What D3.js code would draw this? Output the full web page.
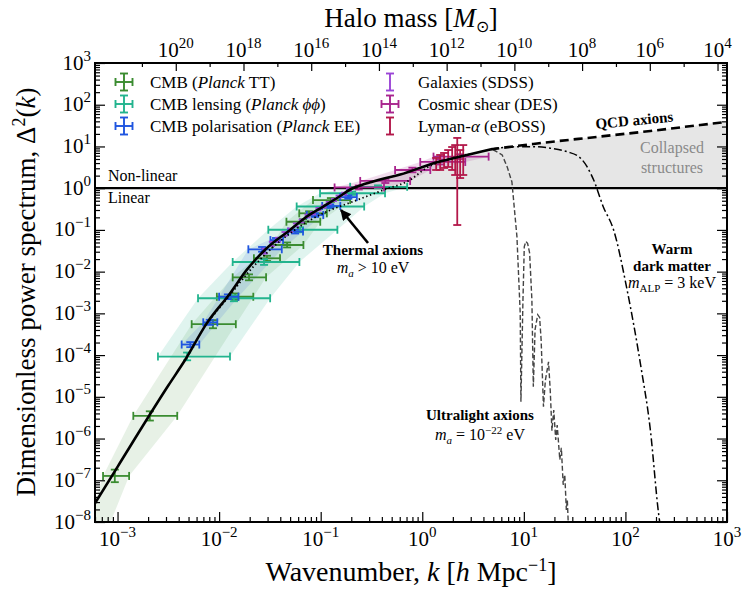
<!DOCTYPE html>
<html><head><meta charset="utf-8">
<script src="https://cdn.jsdelivr.net/npm/d3@7"></script>
<style>
body{margin:0;background:#fff;}
svg text{font-family:"Liberation Serif","Times New Roman",serif;fill:#000;}
</style></head><body>
<svg id="chart" width="748" height="590"></svg>
<script>
// ---------------- data ----------------
const kDomain=[6e-4,1e3];
const dDomain=[1e-8,1e3];
const massNorm=5.25e12; // halo mass M = massNorm * k^-3

const kMajorTicks=[1e-3,1e-2,1e-1,1,10,100,1000];
const kTickExp=["−3","−2","−1","0","1","2","3"];
const dMajorTicks=[1e-8,1e-7,1e-6,1e-5,1e-4,1e-3,1e-2,1e-1,1,10,100,1000];
const dTickExp=["−8","−7","−6","−5","−4","−3","−2","−1","0","1","2","3"];
const massMajorTicks=[1e20,1e18,1e16,1e14,1e12,1e10,1e8,1e6,1e4];
const massTickExp=["20","18","16","14","12","10","8","6","4"];
const massMinorTicks=[1e21,1e19,1e17,1e15,1e13,1e11,1e9,1e7,1e5];

// LCDM Delta^2(k)
const lcdmK=[6e-4,1e-3,3.16e-3,4.62e-3,7.55e-3,1.28e-2,1.87e-2,2.94e-2,5.0e-2,7.31e-2,0.106,0.156,0.195,0.25,0.316,0.42,0.607,1.29,2.75,4.67];
const lcdmD=[2.8e-8,2.1e-7,1.86e-5,7.6e-5,5.75e-4,3.0e-3,1.1e-2,3.63e-2,0.1,0.209,0.363,0.65,0.93,1.18,1.4,1.7,2.12,3.98,6.24,8.5];
// thermal axions (dotted)
const thermK=[7.55e-3,1.26e-2,2.0e-2,3.16e-2,5.0e-2,7.94e-2,0.126,0.195,0.417,0.759,1.11,1.75,2.9];
const thermD=[5.75e-4,2.63e-3,1.05e-2,3.3e-2,8.3e-2,0.174,0.302,0.45,0.91,1.58,3.1,4.8,6.6];
// QCD axions (dashed)
const qcdK=[4.67,12.4,56.7,176,548,1000];
const qcdD=[8.5,11.5,17.3,23.5,32.7,38.6];
// ultralight axions (dashed grey)
const ulaK=[4.2,5.0,6.12,6.86,7.63,8.55,9.21,9.36,9.8,10.1,10.5,10.9,11.4,12.0,12.4,12.9,13.7,14.3,14.8,15.6,16.3,17.5,18.2,18.9,19.7,20.6,21.3,22.6,23.4,24.4,25.3,26.2,26.8,27.4];
const ulaD=[8.0,8.3,6.25,3.22,1.41,0.0689,1.02e-3,7.66e-6,2.1e-3,0.04,0.053,0.047,0.028,2.1e-3,1.75e-5,4.1e-4,9.3e-4,8.0e-4,2.3e-4,5.8e-6,2.5e-5,6.9e-5,1.4e-5,1.55e-6,4.8e-6,9.3e-7,2.1e-6,3.1e-7,6.0e-7,7.8e-8,1.35e-7,1.95e-8,3.4e-8,8.5e-9];
// warm dark matter (dash-dot)
const wdmK=[4.67,7.35,12.4,18.2,26.6,36,41.9,48.7,60.5,76.5,104,140,176,212,230];
const wdmD=[8.5,9.75,9.85,9.1,7.5,5.3,3.27,1.57,0.36,0.1,3.6e-3,6.5e-5,1.6e-6,1.6e-8,4e-9];

// CMB TT
const ttK=[9.4e-4,2.08e-3,8.7e-3,1.44e-2,1.97e-2,2.96e-2,4.67e-2,6.7e-2,7.7e-2,0.126];
const ttKlo=[7.2e-4,1.43e-3,5.37e-3,9.5e-3,1.36e-2,2.2e-2,3.3e-2,4.6e-2,6.15e-2,8.4e-2];
const ttKhi=[1.3e-3,3.87e-3,1.46e-2,2.17e-2,2.9e-2,3.98e-2,6.76e-2,9.9e-2,0.115,0.195];
const ttD=[1.27e-7,3.5e-6,5.5e-4,2.5e-3,7.3e-3,2.09e-2,4.35e-2,0.157,0.25,0.52];
const ttDlo=[9.0e-8,2.7e-6,4.4e-4,2.1e-3,6.2e-3,1.8e-2,3.8e-2,0.14,0.22,0.47];
const ttDhi=[1.8e-7,4.5e-6,6.9e-4,3.0e-3,8.6e-3,2.4e-2,5.0e-2,0.18,0.28,0.58];
// CMB lensing
const lensK=[4.84e-3,1.4e-2,2.77e-2,6.26e-2,0.118,0.204,0.367];
const lensKlo=[2.5e-3,6.2e-3,1.36e-2,3.05e-2,5.8e-2,9.86e-2,0.195];
const lensKhi=[1.28e-2,3.18e-2,6.17e-2,0.146,0.268,0.43,0.71];
const lensD=[9.2e-5,2.3e-3,1.7e-2,0.101,0.364,0.755,1.08];
const lensDlo=[7.5e-5,1.95e-3,1.45e-2,0.088,0.33,0.69,1.0];
const lensDhi=[1.15e-4,2.7e-3,2.0e-2,0.116,0.40,0.83,1.17];
// CMB polarisation EE
const eeK=[5.2e-3,8.1e-3,1.22e-2,2.65e-2,3.63e-2,5.6e-2,8.8e-2,0.124,0.187];
const eeKlo=[4.28e-3,6.98e-3,1.0e-2,1.94e-2,3.2e-2,4.78e-2,7.3e-2,0.1035,0.155];
const eeKhi=[6.38e-3,9.6e-3,1.55e-2,4.14e-2,4.26e-2,6.7e-2,0.106,0.156,0.227];
const eeD=[1.79e-4,6.1e-4,2.5e-3,3.43e-2,5.7e-2,9.1e-2,0.228,0.374,0.612];
const eeDlo=[1.55e-4,5.3e-4,2.2e-3,3.0e-2,5.1e-2,8.2e-2,0.205,0.34,0.56];
const eeDhi=[2.05e-4,7.0e-4,2.85e-3,3.9e-2,6.4e-2,0.101,0.25,0.41,0.67];
// Galaxies SDSS
const sdssK=[0.028,0.033,0.038,0.044,0.05,0.057,0.065,0.074,0.084,0.095,0.107,0.12,0.135,0.15,0.17,0.19];
const sdssD=[0.031,0.046,0.058,0.080,0.098,0.131,0.163,0.216,0.252,0.314,0.362,0.44,0.52,0.63,0.74,0.91];
const sdssDlo=[0.027,0.041,0.052,0.072,0.089,0.12,0.15,0.2,0.235,0.293,0.34,0.413,0.49,0.595,0.7,0.86];
const sdssDhi=[0.0355,0.052,0.065,0.089,0.108,0.143,0.177,0.233,0.27,0.337,0.386,0.468,0.553,0.667,0.782,0.962];
// Cosmic shear DES
const desK=[0.237,0.433,0.8,1.5,2.36];
const desKlo=[0.137,0.245,0.54,0.955,1.29];
const desKhi=[0.42,0.76,1.2,2.65,4.5];
const desD=[1.04,1.49,2.73,4.25,5.7];
const desDlo=[0.93,1.33,2.4,3.7,5.0];
const desDhi=[1.16,1.67,3.1,4.9,6.5];
// Lyman-alpha eBOSS
const lyaK=[1.37,1.5,1.64,1.8,1.97,2.11,2.21,2.36,2.53];
const lyaD=[3.8,4.25,4.74,5.3,5.3,4.74,4.74,4.0,4.74];
const lyaDlo=[2.73,2.73,3.05,3.22,2.73,2.07,0.131,1.75,2.07];
const lyaDhi=[5.3,6.25,6.98,8.2,9.7,10.8,16,8.2,10.8];

// shaded envelopes
const bandTTD=[3e-9,1.27e-7,3.5e-6,5.5e-4,7.3e-3,4.35e-2,0.157,0.52];
const bandTTlo=[4.5e-4,7.2e-4,1.43e-3,5.37e-3,1.36e-2,3.3e-2,4.6e-2,8.4e-2];
const bandTThi=[7.0e-4,1.3e-3,3.87e-3,1.46e-2,2.9e-2,6.76e-2,9.9e-2,0.195];
const bandLensD=[9.2e-5,2.3e-3,1.7e-2,0.101,0.364,0.755,1.08];
const bandLenslo=[2.5e-3,6.2e-3,1.36e-2,3.05e-2,5.8e-2,9.86e-2,0.195];
const bandLenshi=[1.28e-2,3.18e-2,6.17e-2,0.146,0.268,0.43,0.71];
const bandEED=[1.79e-4,6.1e-4,2.5e-3,3.43e-2,9.1e-2,0.228,0.612];
const bandEElo=[4.28e-3,6.98e-3,1.0e-2,1.94e-2,4.78e-2,7.3e-2,0.155];
const bandEEhi=[6.38e-3,9.6e-3,1.55e-2,4.14e-2,6.7e-2,0.106,0.227];
const bandDESD=[1.04,1.49,2.73,4.25,5.7];
const bandDESlo=[0.137,0.245,0.54,0.955,1.29];
const bandDEShi=[0.42,0.76,1.2,2.65,4.5];

const colTT="#3a8c30", colLens="#22b48e", colEE="#1f55e0", colSDSS="#9b45d6", colDES="#a8248e", colLya="#b3184a";

// ---------------- drawing ----------------
const L=95,R=727,T=63,B=522;
const svg=d3.select("#chart");
const x=d3.scaleLog().domain(kDomain).range([L,R]);
const y=d3.scaleLog().domain(dDomain).range([B,T]);
const xm=d3.scaleLog().domain([massNorm*Math.pow(kDomain[0],-3),massNorm*Math.pow(kDomain[1],-3)]).range([L,R]);

const defs=svg.append("defs");
defs.append("clipPath").attr("id","clip").append("rect").attr("x",L).attr("y",T).attr("width",R-L).attr("height",B-T);
defs.append("marker").attr("id","arrow").attr("viewBox","0 0 10 10").attr("refX",9).attr("refY",5)
  .attr("markerWidth",4.2).attr("markerHeight",4.2).attr("orient","auto")
  .append("path").attr("d","M0,0L10,5L0,10z").attr("fill","#000");

const plot=svg.append("g").attr("clip-path","url(#clip)");
const lineKD=d3.line().x(d=>x(d[0])).y(d=>y(d[1]));
const zip=(a,b)=>a.map((v,i)=>[v,b[i]]);

function band(D,lo,hi,color,op){
  const pts=D.map((d,i)=>[lo[i],d]).concat(D.map((d,i)=>[hi[i],d]).reverse());
  plot.append("path").attr("d",lineKD(pts)+"Z").attr("fill",color).attr("fill-opacity",op).attr("stroke","none");
}
band(bandTTD,bandTTlo,bandTThi,colTT,0.12);
band(bandLensD,bandLenslo,bandLenshi,colLens,0.14);
band(bandEED,bandEElo,bandEEhi,colEE,0.12);

// collapsed-structure grey region
(function(){
  let i=lcdmD.findIndex(v=>v>=1);
  const l0=Math.log10(lcdmD[i-1]), l1=Math.log10(lcdmD[i]);
  const t=(0-l0)/(l1-l0);
  const kc=Math.pow(10,Math.log10(lcdmK[i-1])+t*(Math.log10(lcdmK[i])-Math.log10(lcdmK[i-1])));
  const pts=[[kc,1]];
  for(let j=i;j<lcdmK.length;j++) pts.push([lcdmK[j],lcdmD[j]]);
  for(let j=1;j<qcdK.length;j++) pts.push([qcdK[j],qcdD[j]]);
  pts.push([kDomain[1],1]);
  plot.append("path").attr("d",d3.line().x(d=>x(d[0])).y(d=>y(d[1])).curve(d3.curveMonotoneX)(pts)+"Z")
    .attr("fill","#e6e6e6").attr("stroke","none");
})();
band(bandDESD,bandDESlo,bandDEShi,colDES,0.16);

// linear / non-linear divider
plot.append("line").attr("x1",L).attr("x2",R).attr("y1",y(1)).attr("y2",y(1)).attr("stroke","#000").attr("stroke-width",2.2);

// error bars
function errorbars(K,Klo,Khi,D,Dlo,Dhi,color,cap){
  const g=plot.append("g").attr("stroke",color).attr("stroke-width",1.8).attr("fill","none");
  K.forEach((k,i)=>{
    const cx=x(k), cy=y(D[i]);
    if(Klo){
      const x1=x(Klo[i]), x2=x(Khi[i]);
      g.append("line").attr("x1",x1).attr("x2",x2).attr("y1",cy).attr("y2",cy);
      g.append("line").attr("x1",x1).attr("x2",x1).attr("y1",cy-cap).attr("y2",cy+cap);
      g.append("line").attr("x1",x2).attr("x2",x2).attr("y1",cy-cap).attr("y2",cy+cap);
    }
    const y1=y(Dlo[i]), y2=y(Dhi[i]);
    g.append("line").attr("x1",cx).attr("x2",cx).attr("y1",y1).attr("y2",y2);
    g.append("line").attr("x1",cx-cap).attr("x2",cx+cap).attr("y1",y1).attr("y2",y1);
    g.append("line").attr("x1",cx-cap).attr("x2",cx+cap).attr("y1",y2).attr("y2",y2);
  });
}
errorbars(ttK,ttKlo,ttKhi,ttD,ttDlo,ttDhi,colTT,4);
errorbars(lensK,lensKlo,lensKhi,lensD,lensDlo,lensDhi,colLens,4);
errorbars(eeK,eeKlo,eeKhi,eeD,eeDlo,eeDhi,colEE,4);
errorbars(sdssK,null,null,sdssD,sdssDlo,sdssDhi,colSDSS,3);
errorbars(desK,desKlo,desKhi,desD,desDlo,desDhi,colDES,4);
errorbars(lyaK,null,null,lyaD,lyaDlo,lyaDhi,colLya,4);

// model curves
const smooth=d3.line().x(d=>x(d[0])).y(d=>y(d[1])).curve(d3.curveMonotoneX);
plot.append("path").attr("d",smooth(zip(thermK,thermD))).attr("fill","none").attr("stroke","#000").attr("stroke-width",1.8).attr("stroke-dasharray","1.4,2.6");
plot.append("path").attr("d",lineKD(zip(ulaK,ulaD))).attr("fill","none").attr("stroke","#444").attr("stroke-width",1.4).attr("stroke-dasharray","5,2.5");
plot.append("path").attr("d",smooth(zip(wdmK,wdmD))).attr("fill","none").attr("stroke","#000").attr("stroke-width",1.5).attr("stroke-dasharray","8,3,2,3");
plot.append("path").attr("d",smooth(zip(qcdK,qcdD))).attr("fill","none").attr("stroke","#000").attr("stroke-width",2.6).attr("stroke-dasharray","9,5");
plot.append("path").attr("d",smooth(zip(lcdmK,lcdmD))).attr("fill","none").attr("stroke","#000").attr("stroke-width",2.6);

// ---------------- rich text helper ----------------
function rich(parent,x0,y0,parts,o){
  o=o||{};
  const t=parent.append("text").attr("x",x0).attr("y",y0).attr("font-size",o.fs||16);
  if(o.anchor) t.attr("text-anchor",o.anchor);
  if(o.weight) t.attr("font-weight",o.weight);
  if(o.fill) t.style("fill",o.fill);
  if(o.transform) t.attr("transform",o.transform);
  let shift=0;
  parts.forEach(p=>{
    if(typeof p==="string") p={t:p};
    const s=t.append("tspan").text(p.t);
    const target=p.sup?-p.sup:(p.sub?p.sub:0);
    if(target!==shift){s.attr("dy",target-shift);shift=target;}
    if(p.i) s.attr("font-style","italic");
    if(p.fs) s.attr("font-size",p.fs);
  });
  return t;
}

// annotations
const ann=svg.append("g");
rich(ann,108,181,["Non-linear"],{fs:16});
rich(ann,108,203,["Linear"],{fs:16});
rich(ann,672,153,["Collapsed"],{fs:16,anchor:"middle",fill:"#8a8a8a"});
rich(ann,672,173,["structures"],{fs:16,anchor:"middle",fill:"#8a8a8a"});
rich(ann,0,0,["QCD axions"],{fs:15,weight:"bold",transform:"translate(596,129) rotate(-5.5)"});
rich(ann,373,255,["Thermal axions"],{fs:15,weight:"bold",anchor:"middle"});
rich(ann,373,273,[{t:"m",i:1},{t:"a",i:1,sub:4,fs:11},{t:" > 10 eV"}],{fs:16,anchor:"middle"});
ann.append("line").attr("x1",368).attr("y1",243).attr("x2",341).attr("y2",210).attr("stroke","#000").attr("stroke-width",2.6).attr("marker-end","url(#arrow)");
rich(ann,480,420,["Ultralight axions"],{fs:15,weight:"bold",anchor:"middle"});
rich(ann,480,440,[{t:"m",i:1},{t:"a",i:1,sub:4,fs:11},{t:" = 10"},{t:"−22",sup:6,fs:11},{t:" eV"}],{fs:16,anchor:"middle"});
rich(ann,672,254,["Warm"],{fs:15,weight:"bold",anchor:"middle"});
rich(ann,672,271,["dark matter"],{fs:15,weight:"bold",anchor:"middle"});
rich(ann,672,288,[{t:"m",i:1},{t:"ALP",sub:4,fs:11},{t:" = 3 keV"}],{fs:16,anchor:"middle"});

// frame
svg.append("rect").attr("x",L).attr("y",T).attr("width",R-L).attr("height",B-T).attr("fill","none").attr("stroke","#000").attr("stroke-width",2);

// axes ticks via d3 axes
function minorOf(dom){
  const out=[];
  for(let e=Math.floor(Math.log10(dom[0]))-1;e<=Math.ceil(Math.log10(dom[1]));e++)
    for(let j=2;j<=9;j++){const v=j*Math.pow(10,e); if(v>=dom[0]*0.999&&v<=dom[1]*1.001) out.push(v);}
  return out;
}
function styleAxis(g){g.select(".domain").remove();g.selectAll("line").attr("stroke","#000").attr("stroke-width",1.2);g.selectAll("text").remove();}
svg.append("g").attr("transform",`translate(0,${B})`).call(d3.axisBottom(x).tickValues(kMajorTicks).tickSize(-10).tickFormat("")).call(styleAxis);
svg.append("g").attr("transform",`translate(0,${B})`).call(d3.axisBottom(x).tickValues(minorOf(kDomain)).tickSize(-5).tickFormat("")).call(styleAxis);
svg.append("g").attr("transform",`translate(0,${T})`).call(d3.axisTop(xm).tickValues(massMajorTicks).tickSize(-8).tickFormat("")).call(styleAxis);
svg.append("g").attr("transform",`translate(0,${T})`).call(d3.axisTop(xm).tickValues(massMinorTicks).tickSize(-4).tickFormat("")).call(styleAxis);
svg.append("g").attr("transform",`translate(${L},0)`).call(d3.axisLeft(y).tickValues(dMajorTicks).tickSize(-10).tickFormat("")).call(styleAxis);
svg.append("g").attr("transform",`translate(${L},0)`).call(d3.axisLeft(y).tickValues(minorOf(dDomain)).tickSize(-5).tickFormat("")).call(styleAxis);
svg.append("g").attr("transform",`translate(${R},0)`).call(d3.axisRight(y).tickValues(dMajorTicks).tickSize(-10).tickFormat("")).call(styleAxis);
svg.append("g").attr("transform",`translate(${R},0)`).call(d3.axisRight(y).tickValues(minorOf(dDomain)).tickSize(-5).tickFormat("")).call(styleAxis);

// tick labels
const tl=svg.append("g");
kMajorTicks.forEach((v,i)=>rich(tl,x(v),546,["10",{t:kTickExp[i],sup:9,fs:15}],{fs:21,anchor:"middle"}));
dMajorTicks.forEach((v,i)=>rich(tl,91,y(v)+6.5,["10",{t:dTickExp[i],sup:9,fs:15}],{fs:21,anchor:"end"}));
massMajorTicks.forEach((v,i)=>rich(tl,xm(v),57,["10",{t:massTickExp[i],sup:9,fs:15}],{fs:21,anchor:"middle"}));

// axis titles
rich(svg,411,581,["Wavenumber, ",{t:"k",i:1}," [",{t:"h",i:1}," Mpc",{t:"−1",sup:10,fs:18},"]"],{fs:28,anchor:"middle"});
rich(svg,411,27,["Halo mass [",{t:"M",i:1},{t:"⊙",sub:5,fs:16},"]"],{fs:27,anchor:"middle"});
rich(svg,0,0,["Dimensionless power spectrum, Δ",{t:"2",sup:10,fs:18},"(",{t:"k",i:1},")"],{fs:27,anchor:"middle",transform:"translate(35,292) rotate(-90)"});

// legend
const legend=[
  {col:0,row:0,color:colTT,h:true,parts:["CMB (",{t:"Planck",i:1}," TT)"]},
  {col:0,row:1,color:colLens,h:true,parts:["CMB lensing (",{t:"Planck ϕϕ",i:1},")"]},
  {col:0,row:2,color:colEE,h:true,parts:["CMB polarisation (",{t:"Planck",i:1}," EE)"]},
  {col:1,row:0,color:colSDSS,h:false,parts:["Galaxies (SDSS)"]},
  {col:1,row:1,color:colDES,h:true,parts:["Cosmic shear (DES)"]},
  {col:1,row:2,color:colLya,h:false,parts:["Lyman-",{t:"α",i:1}," (eBOSS)"]}
];
const lgX=[124,390], lgTX=[150,418], lgY=[82,104,126];
const lg=svg.append("g");
legend.forEach(e=>{
  const cx=lgX[e.col], cy=lgY[e.row];
  const g=lg.append("g").attr("stroke",e.color).attr("stroke-width",1.9);
  if(e.h){
    g.append("line").attr("x1",cx-8.5).attr("x2",cx+8.5).attr("y1",cy).attr("y2",cy);
    g.append("line").attr("x1",cx-8.5).attr("x2",cx-8.5).attr("y1",cy-4).attr("y2",cy+4);
    g.append("line").attr("x1",cx+8.5).attr("x2",cx+8.5).attr("y1",cy-4).attr("y2",cy+4);
  }
  g.append("line").attr("x1",cx).attr("x2",cx).attr("y1",cy-8.5).attr("y2",cy+8.5);
  g.append("line").attr("x1",cx-4).attr("x2",cx+4).attr("y1",cy-8.5).attr("y2",cy-8.5);
  g.append("line").attr("x1",cx-4).attr("x2",cx+4).attr("y1",cy+8.5).attr("y2",cy+8.5);
  rich(lg,lgTX[e.col],cy+6,e.parts,{fs:17});
});
</script>
</body></html>
